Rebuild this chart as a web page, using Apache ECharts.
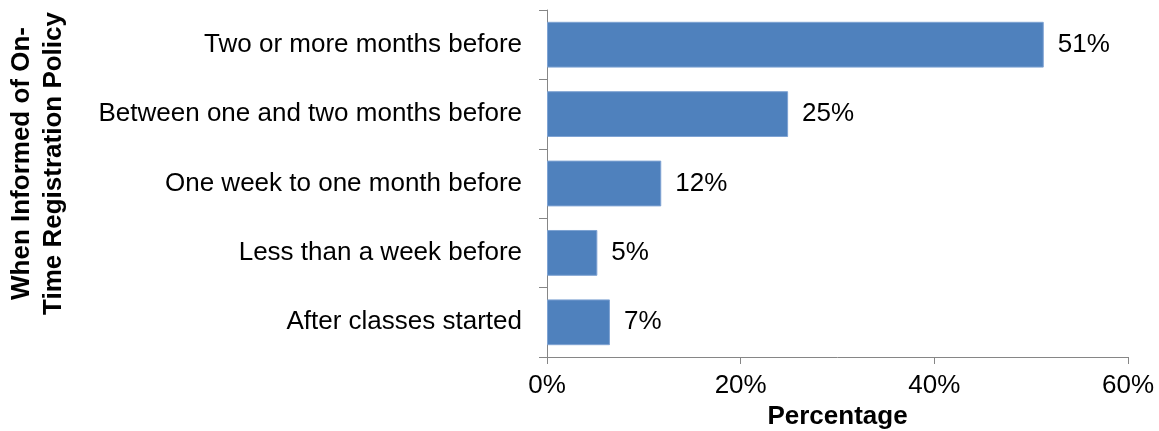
<!DOCTYPE html>
<html>
<head>
<meta charset="utf-8">
<script src="https://cdn.jsdelivr.net/npm/echarts@6/dist/echarts.min.js"></script>
<style>
  html, body { margin: 0; padding: 0; background: #fff; }
  #chart { width: 1159px; height: 431px; }
</style>
</head>
<body>
<div id="chart"></div>
<script>
var categories = [
    'Two or more months before',
    'Between one and two months before',
    'One week to one month before',
    'Less than a week before',
    'After classes started'
];
var values = [51.3, 24.9, 11.8, 5.2, 6.5];
var xTicks = [0, 20, 40, 60];

var FONT = '"Liberation Sans", Arial, sans-serif';
var chart = echarts.init(document.getElementById('chart'));

chart.setOption({
    animation: false,
    grid: {
        left: 547,
        right: 31,
        top: 10,
        bottom: 74,
        outerBoundsMode: 'none'
    },
    xAxis: {
        type: 'value',
        min: xTicks[0],
        max: xTicks[xTicks.length - 1],
        interval: 20,
        name: 'Percentage',
        nameLocation: 'middle',
        nameGap: 46,
        nameTextStyle: { fontFamily: FONT, fontSize: 26, fontWeight: 'bold', color: '#000' },
        axisLine: { show: true, lineStyle: { color: '#868686', width: 1 } },
        axisTick: { show: true, length: 7, lineStyle: { color: '#868686' } },
        axisLabel: {
            margin: 16,
            fontFamily: FONT, fontSize: 26, color: '#000',
            formatter: function (v) { return v + '%'; }
        },
        splitLine: { show: false }
    },
    yAxis: {
        type: 'category',
        inverse: true,
        data: categories,
        name: 'When Informed of On-\nTime Registration Policy',
        nameLocation: 'middle',
        nameRotate: 90,
        nameGap: 477,
        nameTextStyle: {
            fontFamily: FONT, fontSize: 26, fontWeight: 'bold', color: '#000',
            lineHeight: 32, align: 'center', padding: [0, 0, 0, 40]
        },
        axisLine: { show: true, lineStyle: { color: '#868686', width: 1 } },
        axisTick: { show: true, length: 8, inside: false, lineStyle: { color: '#868686' } },
        axisLabel: { margin: 25, fontFamily: FONT, fontSize: 26, color: '#000' }
    },
    series: [{
        type: 'bar',
        data: values,
        barCategoryGap: '34%',
        itemStyle: { color: '#4F81BD', borderColor: '#7FA3D3', borderWidth: 1 },
        label: {
            show: true,
            position: 'right',
            distance: 14,
            fontFamily: FONT, fontSize: 26, color: '#000',
            formatter: function (p) { return Math.round(p.value) + '%'; }
        }
    }]
});
</script>
</body>
</html>
